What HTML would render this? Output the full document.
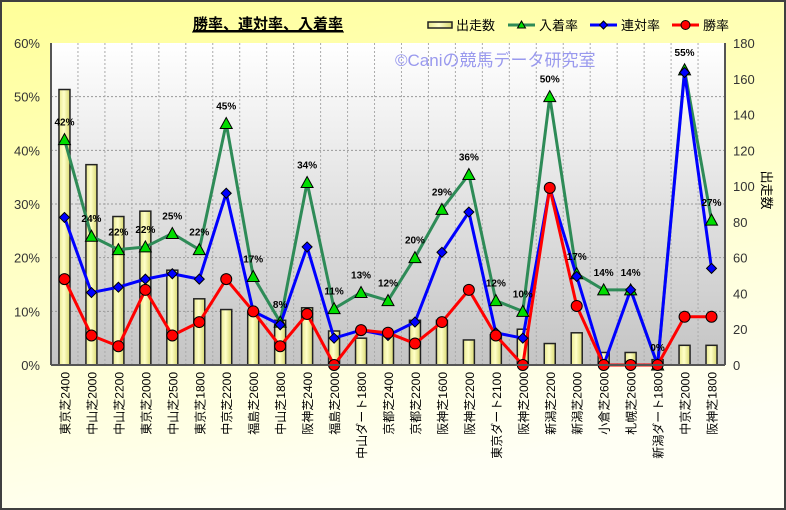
<!DOCTYPE html>
<html><head><meta charset="utf-8"><style>
html,body{margin:0;padding:0;width:786px;height:510px;overflow:hidden;background:#fff}
svg{display:block;font-family:"Liberation Sans","Noto Sans CJK JP",sans-serif}
</style></head><body>
<svg id="c" width="786" height="510" xmlns="http://www.w3.org/2000/svg">
<defs>
<linearGradient id="bg" x1="0" y1="0" x2="0.3" y2="1"><stop offset="0" stop-color="#ffff99"/><stop offset="1" stop-color="#fffff4"/></linearGradient>
<linearGradient id="pl" x1="0" y1="0" x2="0" y2="1"><stop offset="0" stop-color="#ffffff"/><stop offset="1" stop-color="#c4c4c4"/></linearGradient>
<linearGradient id="br" x1="0" y1="0" x2="1" y2="0"><stop offset="0" stop-color="#e8e890"/><stop offset="0.45" stop-color="#ffffc8"/><stop offset="1" stop-color="#d8d870"/></linearGradient>
</defs>
<rect x="1" y="1" width="784" height="508" fill="url(#bg)" stroke="#404040" stroke-width="2"/>
<rect x="51" y="43" width="674" height="322" fill="url(#pl)"/>
<g id="g"></g>
</svg>
<script>
var ns="http://www.w3.org/2000/svg",g=document.getElementById('g');
function el(t,a,txt){var e=document.createElementNS(ns,t);for(var k in a)e.setAttribute(k,a[k]);if(txt!=null)e.textContent=txt;g.appendChild(e);return e;}
var L=51,R=725,T=43,B=365,n=25,w=(R-L)/n;
function X(i){return L+w*(i+0.5);}function Yp(p){return B-(B-T)*p/60;}function Yc(c){return B-(B-T)*c/180;}
for(var i=1;i<6;i++)el('line',{x1:L,x2:R,y1:Yp(i*10),y2:Yp(i*10),stroke:'#999','stroke-dasharray':'2,2','stroke-width':1});
for(var i=1;i<n;i++)el('line',{x1:L+w*i,x2:L+w*i,y1:T,y2:B,stroke:'#aaa','stroke-dasharray':'2,2','stroke-width':1});
el('text',{x:395,y:66,fill:'#9999ee','font-size':17},'©Caniの競馬データ研究室');
var bars=[154,112,83,86,53,37,31,30,25,32,19,15,17,25,25,14,17,20,12,18,7,7,3,11,11];
var gr=[42,24,21.5,22,24.5,21.5,45,16.5,8,34,10.5,13.5,12,20,29,35.5,12,10,50,17,14,14,0,55,27];
var gl=[42,24,22,22,25,22,45,17,8,34,11,13,12,20,29,36,12,10,50,17,14,14,0,55,27];
var bl=[27.5,13.5,14.5,16,17,16,32,10,7.5,22,5,6.5,5.5,8,21,28.5,6,5,33,16.5,0,14,0,54.5,18];
var rd=[16,5.5,3.5,14,5.5,8,16,10,3.5,9.5,0,6.5,6,4,8,14,5.5,0,33,11,0,0,0,9,9];
var names=['東京芝2400','中山芝2000','中山芝2200','東京芝2000','中山芝2500','東京芝1800','中京芝2200','福島芝2600','中山芝1800','阪神芝2400','福島芝2000','中山ダート1800','京都芝2400','京都芝2200','阪神芝1600','阪神芝2200','東京ダート2100','阪神芝2000','新潟芝2200','新潟芝2000','小倉芝2600','札幌芝2600','新潟ダート1800','中京芝2000','阪神芝1800'];
for(var i=0;i<n;i++){var y=Yc(bars[i]);el('rect',{x:X(i)-5.5,y:y,width:11,height:B-y,fill:'url(#br)',stroke:'#222','stroke-width':1.5});}
function pts(a){return a.map(function(v,i){return X(i)+','+Yp(v)}).join(' ');}
el('polyline',{points:pts(gr),fill:'none',stroke:'#2e8b57','stroke-width':3});
el('polyline',{points:pts(bl),fill:'none',stroke:'#0000ff','stroke-width':3});
el('polyline',{points:pts(rd),fill:'none',stroke:'#ff0000','stroke-width':3});
for(var i=0;i<n;i++){var x=X(i),y=Yp(gr[i]);el('polygon',{points:(x)+','+(y-6)+' '+(x-6)+','+(y+5)+' '+(x+6)+','+(y+5),fill:'#00dd00',stroke:'#000','stroke-width':1});
el('text',{x:x,y:y-14,'text-anchor':'middle','font-size':10,'font-weight':'bold',fill:'#000'},gl[i]+'%');}
for(var i=0;i<n;i++){var x=X(i),y=Yp(bl[i]);el('polygon',{points:x+','+(y-5)+' '+(x+5)+','+y+' '+x+','+(y+5)+' '+(x-5)+','+y,fill:'#0000ff',stroke:'#000','stroke-width':1});}
for(var i=0;i<n;i++){el('circle',{cx:X(i),cy:Yp(rd[i]),r:5.5,fill:'#ff0000',stroke:'#000','stroke-width':1});}
el('line',{x1:L,x2:L,y1:T,y2:B,stroke:'#555','stroke-width':2});
el('line',{x1:R,x2:R,y1:T,y2:B,stroke:'#555','stroke-width':2});
el('line',{x1:L,x2:R,y1:B,y2:B,stroke:'#555','stroke-width':2});
for(var i=0;i<=6;i++){el('text',{x:40,y:Yp(i*10)+5,'text-anchor':'end','font-size':13,fill:'#333'},(i*10)+'%');}
for(var i=0;i<=9;i++){el('text',{x:733,y:Yc(i*20)+5,'font-size':13,fill:'#333'},i*20);}
for(var i=0;i<n;i++){el('text',{transform:'translate('+(X(i)+5)+',372) rotate(-90)','text-anchor':'end','font-size':12,fill:'#000'},names[i]);}
el('text',{transform:'translate(762,190) rotate(90)','text-anchor':'middle','font-size':13,fill:'#000'},'出走数');
el('text',{x:268,y:29,'text-anchor':'middle','font-size':15,'font-weight':'bold',fill:'#000','text-decoration':'underline'},'勝率、連対率、入着率');
el('line',{x1:192,x2:344,y1:32,y2:32,stroke:'#000','stroke-width':1});
el('rect',{x:428,y:22,width:24,height:6,fill:'url(#br)',stroke:'#222','stroke-width':1.5});
el('text',{x:456,y:30,'font-size':13,fill:'#000'},'出走数');
el('line',{x1:508,x2:535,y1:25,y2:25,stroke:'#2e8b57','stroke-width':3});
el('polygon',{points:'521.5,21 517.5,28 525.5,28',fill:'#00dd00',stroke:'#000','stroke-width':1});
el('text',{x:539,y:30,'font-size':13,fill:'#000'},'入着率');
el('line',{x1:590,x2:617,y1:25,y2:25,stroke:'#0000ff','stroke-width':3});
el('polygon',{points:'603.5,21 607.5,25 603.5,29 599.5,25',fill:'#0000ff',stroke:'#000','stroke-width':1});
el('text',{x:621,y:30,'font-size':13,fill:'#000'},'連対率');
el('line',{x1:672,x2:699,y1:25,y2:25,stroke:'#ff0000','stroke-width':3});
el('circle',{cx:685.5,cy:25,r:4.5,fill:'#ff0000',stroke:'#000','stroke-width':1});
el('text',{x:703,y:30,'font-size':13,fill:'#000'},'勝率');
</script>
</body></html>
